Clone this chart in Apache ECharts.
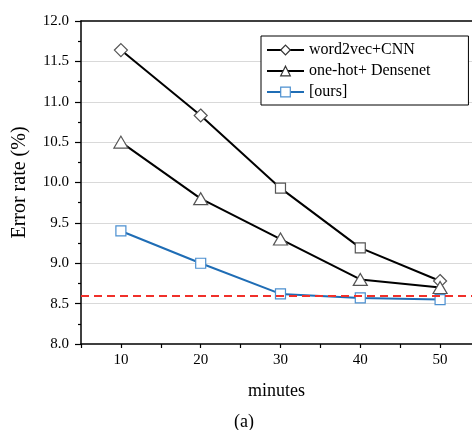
<!DOCTYPE html>
<html><head><meta charset="utf-8">
<script src="https://cdn.jsdelivr.net/npm/echarts@6/dist/echarts.min.js"></script>
<style>html,body{margin:0;padding:0;background:#fff}#c{width:472px;height:430px}</style>
</head><body><div id="c"></div>
<script>
var minutes = [10, 20, 30, 40, 50];
var word2vecCNN = [11.64, 10.83, 9.93, 9.19, 8.78];
var word2vecSymbols = ['diamond', 'diamond', 'rect', 'rect', 'diamond'];
var oneHotDensenet = [10.5, 9.8, 9.3, 8.8, 8.7];
var ours = [9.4, 9.0, 8.62, 8.57, 8.55];
var baseline = 8.595;
var seriesNames = ['word2vec+CNN', 'one-hot+ Densenet', '[ours]'];
var xTitle = 'minutes';
var yTitle = 'Error rate (%)';
var caption = '(a)';

var FONT = 'Liberation Serif';
function pts(vals, syms) {
  return vals.map(function (v, i) {
    var d = { value: [minutes[i], v] };
    if (syms) { d.symbol = syms[i]; d.symbolSize = syms[i] === 'rect' ? 10 : 13; }
    return d;
  });
}
var hollow = { color: '#fff', borderColor: '#555', borderWidth: 1.2 };
var chart = echarts.init(document.getElementById('c'), null, { renderer: 'canvas' });
chart.setOption({
  animation: false,
  backgroundColor: '#fff',
  grid: { left: 81, top: 21, right: 0, bottom: 86, containLabel: false },
  legend: {
    left: 261, top: 36, orient: 'vertical',
    padding: [6, 38, 5, 5], itemGap: 5, itemWidth: 37, itemHeight: 12,
    borderColor: '#000', borderWidth: 1, backgroundColor: '#fff',
    textStyle: { fontFamily: FONT, fontSize: 16, color: '#000' },
    data: [
      { name: seriesNames[0], itemStyle: { color: '#fff', borderColor: '#333', borderWidth: 1.2 } },
      { name: seriesNames[1], itemStyle: { color: '#fff', borderColor: '#333', borderWidth: 1.2 } },
      { name: seriesNames[2], itemStyle: { color: '#fff', borderColor: '#4b8fd0', borderWidth: 1.2 } }
    ]
  },
  xAxis: [{
    type: 'value', min: 5, max: 54, interval: 5,
    name: xTitle, nameLocation: 'middle', nameGap: 38,
    nameTextStyle: { fontFamily: FONT, fontSize: 18, color: '#000' },
    axisLine: { show: true, onZero: false, lineStyle: { color: '#000', width: 1.5 } },
    axisTick: { show: true, inside: false, length: 4, lineStyle: { color: '#000', width: 1.2 } },
    axisLabel: { fontFamily: FONT, fontSize: 15, color: '#000', margin: 9, showMaxLabel: false,
      formatter: function (v) { return (v % 10 === 0 && v <= 50) ? String(v) : ''; } },
    splitLine: { show: false }
  }, {
    type: 'value', position: 'top', min: 5, max: 54,
    axisLine: { show: true, onZero: false, lineStyle: { color: '#000', width: 1.5 } },
    axisTick: { show: false }, axisLabel: { show: false }, splitLine: { show: false }
  }],
  yAxis: {
    type: 'value', min: 8, max: 12, interval: 0.5,
    name: yTitle, nameLocation: 'middle', nameGap: 51, nameRotate: 90,
    nameTextStyle: { fontFamily: FONT, fontSize: 20, color: '#000' },
    axisLine: { show: true, onZero: false, lineStyle: { color: '#000', width: 1.5 } },
    axisTick: { show: true, inside: false, length: 6, lineStyle: { color: '#000', width: 1.2 } },
    minorTick: { show: true, splitNumber: 2, length: 3, lineStyle: { color: '#000', width: 1.2 } },
    axisLabel: { fontFamily: FONT, fontSize: 15, color: '#000', margin: 12,
      formatter: function (v) { return v.toFixed(1); } },
    splitLine: { show: true, showMinLine: false, showMaxLine: false, lineStyle: { color: '#d9d9d9', width: 1 } }
  },
  series: [{
    name: seriesNames[0], type: 'line', data: pts(word2vecCNN, word2vecSymbols),
    symbol: 'diamond', symbolSize: 13,
    lineStyle: { color: '#000', width: 2 },
    itemStyle: hollow,
    z: 3
  }, {
    name: seriesNames[1], type: 'line', data: pts(oneHotDensenet),
    symbol: 'triangle', symbolSize: [14, 12],
    lineStyle: { color: '#000', width: 2 },
    itemStyle: hollow,
    z: 3
  }, {
    name: seriesNames[2], type: 'line', data: pts(ours),
    symbol: 'rect', symbolSize: 10,
    lineStyle: { color: '#1f6db5', width: 2 },
    itemStyle: { color: '#fff', borderColor: '#4b8fd0', borderWidth: 1.2 },
    z: 4,
    markLine: {
      silent: true, symbol: 'none', label: { show: false },
      lineStyle: { color: '#f0302a', width: 2, type: [8, 5] },
      data: [{ yAxis: baseline }]
    }
  }],
  graphic: [{
    type: 'text', left: 234, top: 413,
    style: { text: caption, font: '18px "Liberation Serif"', fill: '#000' }
  }]
});
</script></body></html>
